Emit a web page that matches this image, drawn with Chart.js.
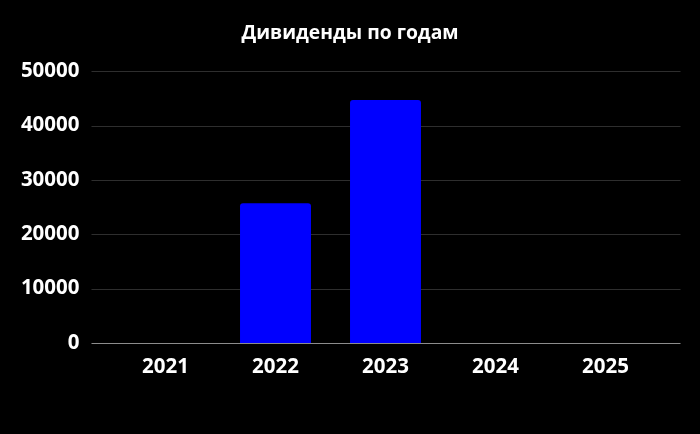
<!DOCTYPE html>
<html>
<head>
<meta charset="utf-8">
<script src="https://cdn.jsdelivr.net/npm/chart.js@4"></script>
<style>
    html, body { margin: 0; padding: 0; background: #000; }
    #wrap { width: 700px; height: 434px; }
</style>
</head>
<body>
<div id="wrap"><canvas id="chart" width="700" height="434"></canvas></div>
<script>
const years = ["2021", "2022", "2023", "2024", "2025"]
const dividends = [0, 25700, 44700, 0, 0]
const yTicks = [0, 10000, 20000, 30000, 40000, 50000]

const FONT = "'Open Sans', 'Liberation Sans', sans-serif"

// Excel-like gridlines that run past the category area on both sides
const wideGrid = {
    id: "wideGrid",
    beforeDatasetsDraw(chart) {
        const ctx = chart.ctx
        const y = chart.scales.y
        const area = chart.chartArea
        ctx.save()
        ctx.lineWidth = 1
        yTicks.forEach(function(t) {
            const py = Math.round(y.getPixelForValue(t)) + 0.5
            ctx.strokeStyle = t === 0 ? "#8c8c8c" : "#2e2e2e"
            ctx.beginPath()
            ctx.moveTo(area.left - 19, py)
            ctx.lineTo(area.right + 20, py)
            ctx.stroke()
        })
        ctx.restore()
    }
}

new Chart(document.getElementById("chart"), {
    type: "bar",
    data: {
        labels: years,
        datasets: [{
            data: dividends,
            backgroundColor: "#0000ff",
            borderRadius: 3,
            categoryPercentage: 1,
            barPercentage: 0.645
        }]
    },
    options: {
        responsive: false,
        animation: false,
        layout: { padding: { left: 20, right: 20, top: 0, bottom: 0 } },
        plugins: {
            legend: { display: false },
            tooltip: { enabled: false },
            title: {
                display: true,
                text: "Дивиденды по годам",
                color: "#ffffff",
                font: { family: FONT, size: 19.3, weight: "bold" },
                padding: { top: 22, bottom: 26 }
            }
        },
        scales: {
            x: {
                grid: { display: false, drawTicks: false },
                border: { display: false },
                ticks: {
                    color: "#ffffff",
                    padding: 12,
                    font: { family: FONT, size: 20.5, weight: "bold" }
                },
                afterFit: function(scale) { scale.height = 91 }
            },
            y: {
                min: 0,
                max: 50000,
                grid: { display: false, drawTicks: false },
                border: { display: false },
                afterBuildTicks: function(scale) {
                    scale.ticks = yTicks.map(v => ({ value: v }))
                },
                ticks: {
                    color: "#ffffff",
                    padding: 31,
                    font: { family: FONT, size: 20.5, weight: "bold" },
                    callback: v => String(v)
                },
                afterFit: function(scale) { scale.width = 90.5 }
            },
            // empty right-hand strip so the plot area matches the original
            yRight: {
                position: "right",
                min: 0,
                max: 50000,
                grid: { display: false, drawTicks: false },
                border: { display: false },
                ticks: { display: false },
                afterFit: function(scale) { scale.width = 19.5 }
            }
        }
    },
    plugins: [wideGrid]
})
</script>
</body>
</html>
